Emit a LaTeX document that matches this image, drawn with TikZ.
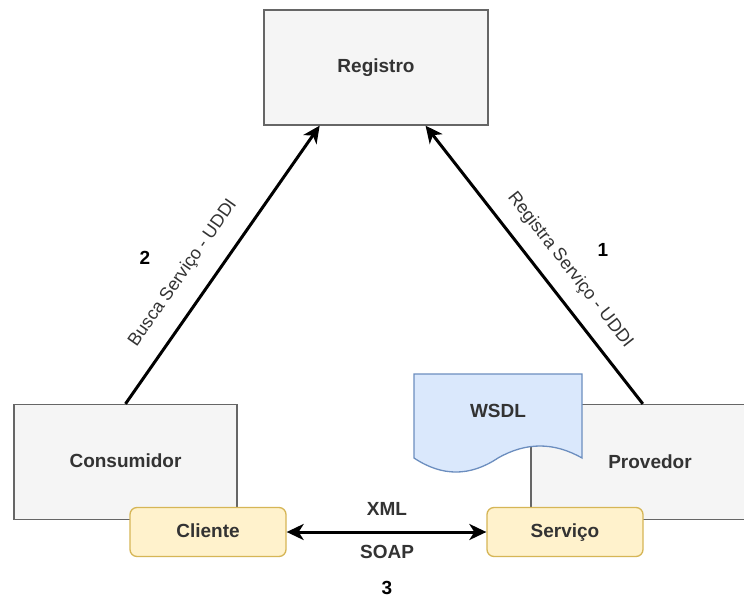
\documentclass[tikz,border=0pt]{standalone}
\usepackage{fontspec}
\setmainfont{Liberation Sans}
\usetikzlibrary{arrows.meta,calc}
\definecolor{boxfill}{HTML}{F5F5F5}
\definecolor{boxline}{HTML}{666666}
\definecolor{ylwfill}{HTML}{FFF2CC}
\definecolor{ylwline}{HTML}{D6B656}
\definecolor{bluefill}{HTML}{DAE8FC}
\definecolor{blueline}{HTML}{6C8EBF}
\definecolor{txt}{HTML}{333333}

\begin{document}
\begin{tikzpicture}[x=1pt,y=-1pt,
  greybox/.style={draw=boxline, fill=boxfill, line width=1.3pt, inner sep=0pt,
    text=txt, font=\fontsize{19}{22}\selectfont\bfseries},
  rolebox/.style={draw=ylwline, fill=ylwfill, line width=1.3pt, rounded corners=7pt,
    inner sep=0pt, minimum width=156pt, minimum height=49pt,
    text height=14pt, text depth=4pt,
    text=txt, font=\fontsize{19}{22}\selectfont\bfseries},
  edgelbl/.style={text=txt, inner sep=0pt, font=\fontsize{18}{21}\selectfont},
  boldlbl/.style={text=txt, inner sep=0pt, text height=14pt, text depth=4pt,
    font=\fontsize{19}{22}\selectfont\bfseries},
  num/.style={text=black, inner sep=0pt, font=\fontsize{19}{22}\selectfont\bfseries},
  conn/.style={line width=3pt, -{Stealth[length=17pt,width=16pt,inset=5pt]}},
  conn2/.style={line width=3pt, {Stealth[length=17pt,width=16pt,inset=5pt]}-{Stealth[length=17pt,width=16pt,inset=5pt]}}
]
\useasboundingbox (0,0) rectangle (744,599);
\fill[white] (0,0) rectangle (744,599);

% main participants
\node[greybox, minimum width=224pt, minimum height=115pt,
  text height=14pt, text depth=4pt] (reg) at (376,67.5) {Registro};
\node[greybox, minimum width=223pt, minimum height=115pt,
  text height=14pt, text depth=4pt] (cons) at (125.5,462) {Consumidor};
\node[greybox, minimum width=238pt, minimum height=115pt] (prov) at (650,462) {};
\node[boldlbl] (provlbl) at (650,463) {Provedor};

% WSDL document sitting on the provider
\draw[draw=blueline, fill=bluefill, line width=1.3pt]
  (414,374) -- (582,374) -- (582,458)
  .. controls (554,442) and (526,442) .. (498,458)
  .. controls (470,476.7) and (442,476.7) .. (414,458) -- cycle;
\node[boldlbl] (wsdl) at (498,412) {WSDL};

% client and service endpoints
\node[rolebox] (cli) at (208,532) {Cliente};
\node[rolebox] (srv) at (565,532) {Serviço};

% connectors
\draw[conn] (cons.north) -- ($(reg.south west)!0.25!(reg.south east)$);
\draw[conn] ($(prov.north west)!0.47!(prov.north east)$) -- ($(reg.south west)!0.72!(reg.south east)$);
\draw[conn2] (cli.east) -- (srv.west);

% labels
\node[edgelbl, rotate=55] (lbl2) at (183,273) {Busca Serviço - UDDI};
\node[edgelbl, rotate=-52] (lbl1) at (570,270) {Registra Serviço - UDDI};
\node[num] (n2) at (145,258) {2};
\node[num] (n1) at (603,250) {1};
\node[num] (n3) at (387,588) {3};
\node[boldlbl] (xml) at (387,510) {XML};
\node[boldlbl] (soap) at (387,553) {SOAP};
\end{tikzpicture}
\end{document}
